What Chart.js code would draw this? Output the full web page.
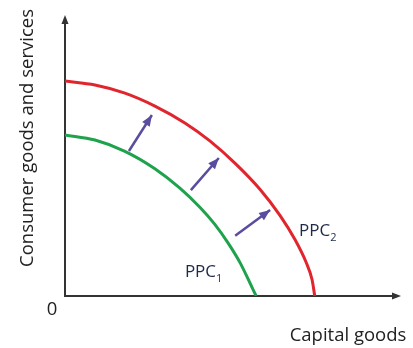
<!DOCTYPE html>
<html>
<head>
<meta charset="utf-8">
<script src="https://cdn.jsdelivr.net/npm/chart.js@4"></script>
<style>
  body { margin: 0; background: #fff; }
  canvas { display: block; }
</style>
</head>
<body>
<canvas id="ppcChart" width="413" height="348"></canvas>
<script>
// PPC curves (x = capital goods, y = consumer goods, 0-100 scale)
const ppc1X = [0, 9.0, 18.0, 27.0, 34.5, 40.5, 45.0, 48.9, 52.6, 55.6, 57.4];
const ppc1Y = [57.3, 55.5, 51.5, 45.3, 38.4, 31.6, 25.5, 19.0, 11.8, 4.5, 0];

const ppc2X = [0, 9.0, 18.0, 27.0, 36.0, 43.5, 51.1, 58.6, 64.6, 69.1, 72.4, 74.2, 75.0];
const ppc2Y = [76.5, 75.1, 72.2, 67.6, 61.6, 55.2, 47.2, 37.9, 28.6, 20.0, 12.0, 5.8, 0];

// shift arrows (tail -> head)
const arrowTailX = [19.2, 37.8, 51.1];
const arrowTailY = [51.6, 37.7, 21.4];
const arrowHeadX = [26.1, 46.2, 61.6];
const arrowHeadY = [64.4, 49.1, 30.6];

// text labels
const curveLabels = ['PPC', 'PPC'];
const curveSubs = ['1', '2'];
const curveLabelX = [36, 70.3];
const curveLabelY = [6.8, 21.4];
const xTitle = 'Capital goods';
const yTitle = 'Consumer goods and services';
const originLabel = '0';

const RED = '#e1252d';
const GREEN = '#1ea24c';
const PURPLE = '#5a4c9e';
const AXIS = '#333333';
const FONT = '"Open Sans", sans-serif';

function toPoints(xs, ys) {
    return xs.map((x, i) => ({ x: x, y: ys[i] }));
}

const datasets = [
    {
        label: 'PPC1',
        data: toPoints(ppc1X, ppc1Y),
        borderColor: GREEN,
        borderWidth: 3,
        cubicInterpolationMode: 'monotone',
        pointRadius: 0
    },
    {
        label: 'PPC2',
        data: toPoints(ppc2X, ppc2Y),
        borderColor: RED,
        borderWidth: 3,
        cubicInterpolationMode: 'monotone',
        pointRadius: 0
    }
];

arrowTailX.forEach((tx, i) => {
    datasets.push({
        label: 'shift' + i,
        data: [{ x: tx, y: arrowTailY[i] }, { x: arrowHeadX[i], y: arrowHeadY[i] }],
        borderColor: PURPLE,
        borderWidth: 2.5,
        pointRadius: 0,
        tension: 0
    });
});

function triangle(ctx, tipX, tipY, angle, len, half) {
    ctx.beginPath();
    ctx.moveTo(tipX, tipY);
    ctx.lineTo(tipX - len * Math.cos(angle) + half * Math.sin(angle),
               tipY - len * Math.sin(angle) - half * Math.cos(angle));
    ctx.lineTo(tipX - len * Math.cos(angle) - half * Math.sin(angle),
               tipY - len * Math.sin(angle) + half * Math.cos(angle));
    ctx.closePath();
    ctx.fill();
}

const diagramPlugin = {
    id: 'diagram',
    beforeDatasetsDraw(chart) {
        const ctx = chart.ctx;
        const xs = chart.scales.x;
        const ys = chart.scales.y;
        const ox = xs.getPixelForValue(0);
        const oy = ys.getPixelForValue(0);
        const top = ys.getPixelForValue(100);
        const right = xs.getPixelForValue(100) + 3;

        ctx.save();
        ctx.strokeStyle = AXIS;
        ctx.fillStyle = AXIS;
        ctx.lineWidth = 2;
        ctx.beginPath();
        ctx.moveTo(ox, top + 4);
        ctx.lineTo(ox, oy);
        ctx.lineTo(right - 4, oy);
        ctx.stroke();
        triangle(ctx, ox, top, -Math.PI / 2, 9, 3.5);
        triangle(ctx, right, oy, 0, 9, 3.5);
        ctx.restore();
    },
    afterDatasetsDraw(chart) {
        const ctx = chart.ctx;
        const xs = chart.scales.x;
        const ys = chart.scales.y;

        // arrow heads
        ctx.save();
        ctx.fillStyle = PURPLE;
        arrowHeadX.forEach((hx, i) => {
            const px = xs.getPixelForValue(hx);
            const py = ys.getPixelForValue(arrowHeadY[i]);
            const tx = xs.getPixelForValue(arrowTailX[i]);
            const ty = ys.getPixelForValue(arrowTailY[i]);
            triangle(ctx, px, py, Math.atan2(py - ty, px - tx), 11, 4.5);
        });
        ctx.restore();

        // curve labels with subscripts
        ctx.save();
        ctx.fillStyle = '#1f2a48';
        ctx.textBaseline = 'alphabetic';
        curveLabels.forEach((txt, i) => {
            const px = xs.getPixelForValue(curveLabelX[i]);
            const py = ys.getPixelForValue(curveLabelY[i]);
            ctx.font = '17px ' + FONT;
            ctx.textAlign = 'left';
            ctx.fillText(txt, px, py);
            const w = ctx.measureText(txt).width;
            ctx.font = '11px ' + FONT;
            ctx.fillText(curveSubs[i], px + w, py + 5);
        });
        ctx.restore();

        // axis titles
        ctx.save();
        ctx.fillStyle = '#222';
        ctx.font = '18.5px ' + FONT;
        ctx.textAlign = 'center';
        ctx.textBaseline = 'middle';
        ctx.fillText(originLabel, 52, 310);
        ctx.fillText(xTitle, 348, 336);
        ctx.translate(28, 138);
        ctx.rotate(-Math.PI / 2);
        ctx.fillText(yTitle, 0, 0);
        ctx.restore();
    }
};

new Chart(document.getElementById('ppcChart'), {
    type: 'scatter',
    data: { datasets: datasets },
    options: {
        responsive: false,
        animation: false,
        showLine: true,
        layout: { padding: { left: 65, right: 15, top: 15, bottom: 52 } },
        plugins: {
            legend: { display: false },
            tooltip: { enabled: false }
        },
        scales: {
            x: { type: 'linear', min: 0, max: 100, display: false },
            y: { type: 'linear', min: 0, max: 100, display: false }
        }
    },
    plugins: [diagramPlugin]
});
</script>
</body>
</html>
